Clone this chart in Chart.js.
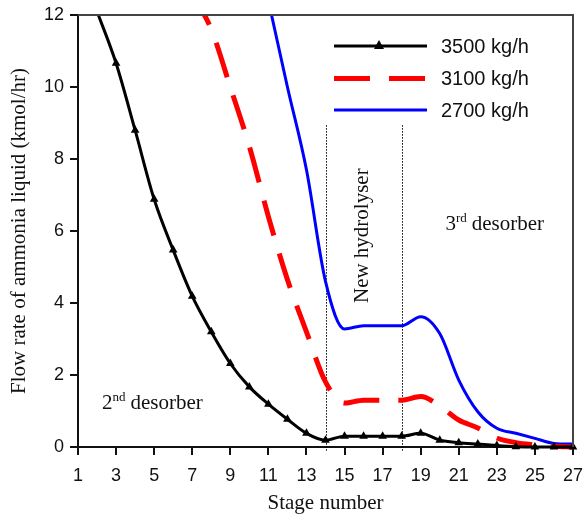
<!DOCTYPE html>
<html>
<head>
<meta charset="utf-8">
<script src="https://cdn.jsdelivr.net/npm/chart.js@4.4.0/dist/chart.umd.min.js"></script>
<style>
html,body{margin:0;padding:0;background:#fff;}
#wrap{width:585px;height:516px;position:relative;}
</style>
</head>
<body>
<div id="wrap"><canvas id="c" width="585" height="516"></canvas></div>
<script>
// ---- data ----
const stages   = [1,2,3,4,5,6,7,8,9,10,11,12,13,14,15,16,17,18,19,20,21,22,23,24,25,26,27];
const flow3500 = [null,12.1,10.66,8.8,6.88,5.47,4.19,3.2,2.32,1.67,1.19,0.77,0.38,0.19,0.3,0.3,0.3,0.3,0.38,0.19,0.12,0.08,0.04,0.01,0,0,0];
const flow3100 = [null,null,null,null,null,null,12.6,11.6,10.0,8.35,6.4,4.65,3.2,1.81,1.22,1.3,1.3,1.3,1.4,1.14,0.75,0.53,0.25,0.12,0.06,0.02,0];
const flow2700 = [null,null,null,null,null,null,null,null,null,null,12.4,10.0,7.7,4.6,3.28,3.37,3.37,3.37,3.62,3.15,1.86,0.98,0.52,0.38,0.24,0.1,0.08];
const seriesLabels = ['3500 kg/h','3100 kg/h','2700 kg/h'];
const xTicks = [1,3,5,7,9,11,13,15,17,19,21,23,25,27];
const yTicks = [0,2,4,6,8,10,12];
const xTitle = 'Stage number';
const yTitle = 'Flow rate of ammonia liquid (kmol/hr)';
const zoneBounds = [14, 18];
const zoneLabel = 'New hydrolyser';
const regionLabels = [
  {num:'2', sup:'nd', word:'desorber', stage:2.26, value:1.06},
  {num:'3', sup:'rd', word:'desorber', stage:20.3, value:6.03}
];

const pts = arr => stages.map((s,i)=>({x:s, y:arr[i]}));

Chart.defaults.font.family = 'Liberation Sans, Arial, sans-serif';
Chart.defaults.color = '#111';

const SERIF = 'Liberation Serif, Times New Roman, serif';

const decor = {
  id: 'decor',
  beforeDatasetsDraw(chart) {
    const {ctx, chartArea: a, scales: {x, y}} = chart;
    ctx.save();
    ctx.strokeStyle = '#000';
    ctx.lineWidth = 1;
    ctx.setLineDash([1.5, 1.5]);
    const top = y.getPixelForValue(8.94);
    for (const s of zoneBounds) {
      const px = Math.round(x.getPixelForValue(s)) + 0.5;
      ctx.beginPath();
      ctx.moveTo(px, top);
      ctx.lineTo(px, a.bottom + 5);
      ctx.stroke();
    }
    ctx.restore();
  },
  afterDraw(chart) {
    const {ctx, chartArea: a, scales: {x, y}} = chart;
    ctx.save();
    // top / right frame
    ctx.strokeStyle = '#444';
    ctx.lineWidth = 2;
    ctx.setLineDash([]);
    ctx.beginPath();
    ctx.moveTo(a.left, a.top);
    ctx.lineTo(a.right, a.top);
    ctx.lineTo(a.right, a.bottom);
    ctx.stroke();

    // legend
    const rows = [46, 78.5, 110];
    chart.data.datasets.forEach((ds, i) => {
      const yy = rows[i];
      ctx.save();
      ctx.strokeStyle = ds.borderColor;
      ctx.lineWidth = ds.borderWidth;
      ctx.lineCap = 'butt';
      ctx.setLineDash(ds.borderDash || []);
      ctx.beginPath();
      ctx.moveTo(334, yy);
      ctx.lineTo(427, yy);
      ctx.stroke();
      ctx.restore();
      if (ds.pointStyle === 'triangle') {
        ctx.fillStyle = ds.backgroundColor;
        ctx.beginPath();
        ctx.moveTo(379, yy - 6);
        ctx.lineTo(374, yy + 3);
        ctx.lineTo(384, yy + 3);
        ctx.closePath();
        ctx.fill();
      }
      ctx.fillStyle = '#111';
      ctx.font = '20px Liberation Sans, Arial, sans-serif';
      ctx.textBaseline = 'middle';
      ctx.textAlign = 'left';
      ctx.fillText(ds.label, 441, yy + 1);
    });

    // region labels with superscripts
    ctx.fillStyle = '#111';
    ctx.textAlign = 'left';
    ctx.textBaseline = 'alphabetic';
    for (const r of regionLabels) {
      let px = x.getPixelForValue(r.stage);
      const py = y.getPixelForValue(r.value);
      ctx.font = '21px ' + SERIF;
      ctx.fillText(r.num, px, py);
      px += ctx.measureText(r.num).width;
      ctx.font = '13px ' + SERIF;
      ctx.fillText(r.sup, px, py - 8);
      px += ctx.measureText(r.sup).width + 5;
      ctx.font = '21px ' + SERIF;
      ctx.fillText(r.word, px, py);
    }

    // rotated zone label
    ctx.save();
    const cx = (x.getPixelForValue(zoneBounds[0]) + x.getPixelForValue(zoneBounds[1])) / 2 - 1;
    const cy = y.getPixelForValue(5.87);
    ctx.translate(cx, cy);
    ctx.rotate(-Math.PI / 2);
    ctx.font = '21px ' + SERIF;
    ctx.textAlign = 'center';
    ctx.textBaseline = 'middle';
    ctx.fillText(zoneLabel, 0, 0);
    ctx.restore();

    ctx.restore();
  }
};

const ctx = document.getElementById('c').getContext('2d');
new Chart(ctx, {
  type: 'line',
  data: {
    datasets: [
      {
        label: seriesLabels[0], data: pts(flow3500),
        borderColor: '#000', backgroundColor: '#000', borderWidth: 3,
        pointStyle: 'triangle', pointRadius: stages.map(s => s >= 3 ? 5 : 0),
        pointBorderWidth: 0, cubicInterpolationMode: 'monotone',
        clip: {left: 0, top: 0, right: 8, bottom: 8}
      },
      {
        label: seriesLabels[1], data: pts(flow3100),
        borderColor: '#ff0000', backgroundColor: '#ff0000', borderWidth: 5,
        borderDash: [36, 19], borderCapStyle: 'butt',
        pointRadius: 0, cubicInterpolationMode: 'monotone',
        clip: {left: 0, top: 0, right: 8, bottom: 8}
      },
      {
        label: seriesLabels[2], data: pts(flow2700),
        borderColor: '#0000ff', backgroundColor: '#0000ff', borderWidth: 3,
        pointRadius: 0, cubicInterpolationMode: 'monotone',
        clip: {left: 0, top: 0, right: 8, bottom: 8}
      }
    ]
  },
  options: {
    responsive: false,
    animation: false,
    spanGaps: false,
    layout: {padding: {top: 15, right: 12, left: 0, bottom: 0}},
    plugins: {legend: {display: false}, tooltip: {enabled: false}},
    scales: {
      x: {
        type: 'linear', min: 1, max: 27,
        afterBuildTicks(s) { s.ticks = xTicks.map(v => ({value: v})); },
        ticks: {autoSkip: false, maxRotation: 0, font: {size: 18}, color: '#111', padding: 10},
        grid: {display: true, drawOnChartArea: false, drawTicks: true, tickLength: 8, color: '#111', lineWidth: 2},
        border: {display: true, color: '#111', width: 2},
        title: {display: true, text: xTitle, font: {family: SERIF, size: 21}, color: '#111', padding: {top: 0, bottom: 0}},
        afterFit(s) { s.height = 69; s.paddingLeft = 0; s.paddingRight = 0; }
      },
      y: {
        min: 0, max: 12,
        afterBuildTicks(s) { s.ticks = yTicks.map(v => ({value: v})); },
        ticks: {font: {size: 18}, color: '#111', padding: 6},
        grid: {display: true, drawOnChartArea: false, drawTicks: true, tickLength: 8, color: '#111', lineWidth: 2},
        border: {display: true, color: '#111', width: 2},
        title: {display: true, text: yTitle, font: {family: SERIF, size: 21}, color: '#111', padding: {top: 7, bottom: 0}},
        afterFit(s) { s.width = 78; s.paddingTop = 0; s.paddingBottom = 0; }
      }
    }
  },
  plugins: [decor]
});
</script>
</body>
</html>
